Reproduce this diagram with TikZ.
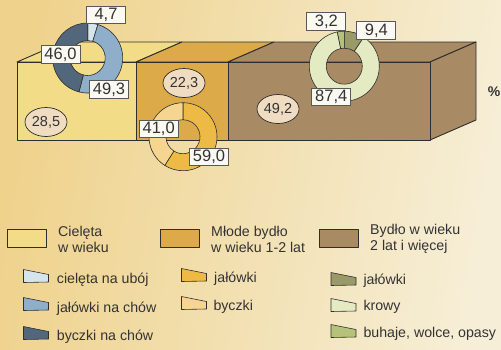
\documentclass[tikz,border=0pt]{standalone}
\usepackage{fontspec}
\setmainfont{Liberation Sans}
\usetikzlibrary{shapes.geometric}
\definecolor{bgL}{HTML}{EFD28C}
\definecolor{bgR}{HTML}{F6EED6}
\definecolor{cboxA}{HTML}{F2DC88}
\definecolor{cboxB}{HTML}{DCAA48}
\definecolor{cboxC}{HTML}{A88A64}
\definecolor{ellfill}{HTML}{F0DCC0}
\definecolor{blueA}{HTML}{D6E4EC}
\definecolor{blueB}{HTML}{8EAECA}
\definecolor{blueC}{HTML}{52667C}
\definecolor{oraA}{HTML}{EEBA46}
\definecolor{oraB}{HTML}{F6D590}
\definecolor{grnA}{HTML}{9A9A68}
\definecolor{grnB}{HTML}{E4EAC2}
\definecolor{grnC}{HTML}{B6C27A}
\definecolor{lblfill}{HTML}{FAFAF2}
\definecolor{ink}{HTML}{2E2E2E}
\definecolor{txt}{HTML}{333333}
\tikzset{
  boxline/.style={draw=ink, line width=0.9pt, line join=round},
  segline/.style={draw=ink, line width=0.6pt},
  lbl/.style={draw=ink!80, line width=0.7pt, fill=lblfill, minimum width=39pt, minimum height=17.5pt, inner sep=0pt, text=txt, font=\fontsize{16.5}{18}\selectfont},
  ell/.style={ellipse, draw=ink, line width=0.7pt, fill=ellfill, minimum width=42pt, minimum height=29pt, inner sep=0pt, text=txt, font=\fontsize{14.5}{16}\selectfont},
  legtxt/.style={anchor=west, inner sep=0pt, text=txt, font=\fontsize{14.2}{16}\selectfont, align=left},
  icon/.style={draw=ink, line width=0.6pt, line join=round}
}
% annular sector: center x, center y, start, end, R, r, colour
\newcommand{\ringseg}[7]{%
  \path[segline, fill=#7] ([shift={(#3:#5)}]#1,#2) arc[start angle=#3, end angle=#4, radius=#5]
    -- ([shift={(#4:#6)}]#1,#2) arc[start angle=#4, end angle=#3, radius=#6] -- cycle;}
\newcommand{\legicon}[3]{%
  \path[icon, fill=#3] (#1,#2) -- ++(25,5) -- ++(0,7.5) -- ++(-25,0.5) -- cycle;}
\begin{document}
\begin{tikzpicture}[x=1pt, y=-1pt]
\useasboundingbox (0,0) rectangle (501,349);
\shade[left color=bgL, right color=bgR, shading angle=80] (0,0) rectangle (501,349);
% boxes
\path[boxline, fill=cboxA] (17,62) -- (63,42) -- (182,42) -- (136,62) -- cycle;
\path[boxline, fill=cboxA] (17,62) rectangle (136,140);
\path[boxline, fill=cboxB] (136,62) -- (182,42) -- (274,42) -- (228,62) -- cycle;
\path[boxline, fill=cboxB] (136,62) rectangle (228,140);
\path[boxline, fill=cboxC] (228,62) -- (274,42) -- (476,42) -- (430,62) -- cycle;
\path[boxline, fill=cboxC] (430,62) -- (476,42) -- (476,120) -- (430,140) -- cycle;
\path[boxline, fill=cboxC] (228,62) rectangle (430,140);
% ellipses
\node[ell] (e1) at (46,122) {28,5};
\node[ell] (e2) at (184,83) {22,3};
\node[ell] (e3) at (278,109) {49,2};
% donut 1 (from top, clockwise)
\ringseg{87.7}{58}{-90}{-73.08}{35}{17.5}{blueA}
\ringseg{87.7}{58}{-73.08}{104.4}{35}{17.5}{blueB}
\ringseg{87.7}{58}{104.4}{270}{35}{17.5}{blueC}
% donut 2
\ringseg{183}{136.7}{-90}{122.4}{34}{17}{oraA}
\ringseg{183}{136.7}{122.4}{270}{34}{17}{oraB}
% donut 3
\ringseg{344.3}{66.2}{-90}{-56.16}{35}{18}{grnA}
\ringseg{344.3}{66.2}{-56.16}{258.48}{35}{18}{grnB}
\ringseg{344.3}{66.2}{258.48}{270}{35}{18}{grnC}
% value labels
\node[lbl] (l47) at (106,15) {4,7};
\node[lbl] (l46) at (60.5,54.5) {46,0};
\node[lbl] (l493) at (109,89.5) {49,3};
\node[lbl] (l41) at (158.7,129) {41,0};
\node[lbl] (l59) at (209,156.7) {59,0};
\node[lbl] (l32) at (326.3,21.3) {3,2};
\node[lbl] (l94) at (376.3,30.3) {9,4};
\node[lbl] (l874) at (331.3,96.8) {87,4};
\node[anchor=east, inner sep=0pt, text=txt, font=\bfseries\fontsize{14}{16}\selectfont] (pct) at (500.5,91.5) {\%};
% main legend
\path[boxline, fill=cboxA] (7.3,229.3) rectangle (46,247.3);
\path[boxline, fill=cboxB] (160,229.3) rectangle (199.3,247.3);
\path[boxline, fill=cboxC] (319,229.3) rectangle (358.3,247.3);
\node[legtxt] (t1) at (58,239) {Cielęta\\w wieku};
\node[legtxt] (t2) at (211,239) {Młode bydło\\w wieku 1-2 lat};
\node[legtxt] (t3) at (370,239) {Bydło w wieku\\2 lat i więcej};
% sub legend
\legicon{23.5}{269.5}{blueA}
\legicon{23.5}{297.5}{blueB}
\legicon{23.5}{326.5}{blueC}
\legicon{181.5}{268.5}{oraA}
\legicon{181.5}{296.5}{oraB}
\legicon{331}{272.5}{grnA}
\legicon{331}{298.5}{grnB}
\legicon{331}{324.5}{grnC}
\node[legtxt] (s1) at (56.7,280) {cielęta na ubój};
\node[legtxt] (s2) at (56.7,308.3) {jałówki na chów};
\node[legtxt] (s3) at (56.7,336.7) {byczki na chów};
\node[legtxt] (s4) at (214,278.7) {jałówki};
\node[legtxt] (s5) at (213.3,307) {byczki};
\node[legtxt] (s6) at (363.3,281) {jałówki};
\node[legtxt] (s7) at (363.3,306.7) {krowy};
\node[legtxt] (s8) at (363.3,334) {buhaje, wolce, opasy};
\end{tikzpicture}
\end{document}
